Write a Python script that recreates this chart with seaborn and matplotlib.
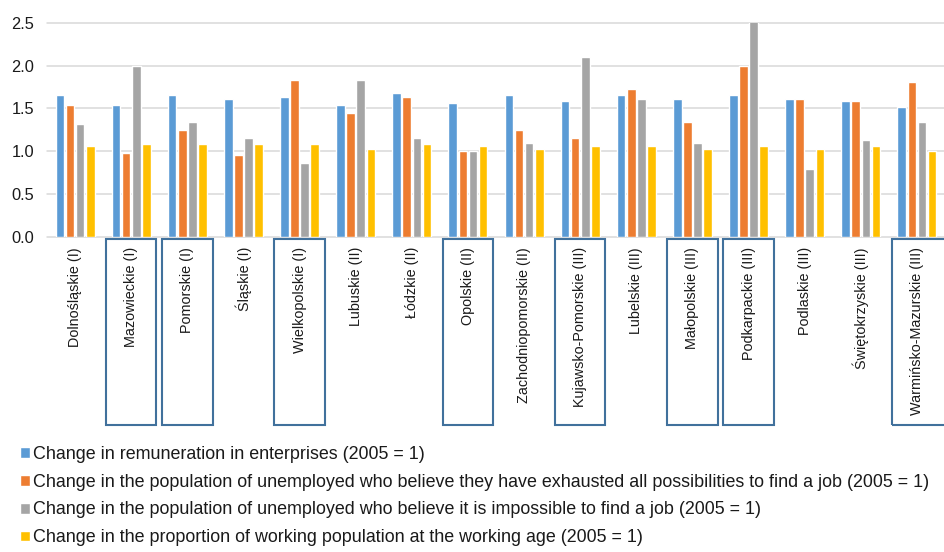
import pandas as pd
import matplotlib.pyplot as plt
import matplotlib.transforms as mtransforms
from matplotlib.patches import Rectangle
import seaborn as sns

# voivodeships (x axis)
regions = ['Dolnośląskie (I)', 'Mazowieckie (I)', 'Pomorskie (I)', 'Śląskie (I)',
           'Wielkopolskie (I)', 'Lubuskie (II)', 'Łódzkie (II)', 'Opolskie (II)',
           'Zachodniopomorskie (II)', 'Kujawsko-Pomorskie (III)', 'Lubelskie (III)',
           'Małopolskie (III)', 'Podkarpackie (III)', 'Podlaskie (III)',
           'Świętokrzyskie (III)', 'Warmińsko-Mazurskie (III)']

series = ['Change in remuneration in enterprises (2005 = 1)',
          'Change in the population of unemployed who believe they have exhausted all possibilities to find a job (2005 = 1)',
          'Change in the population of unemployed who believe it is impossible to find a job (2005 = 1)',
          'Change in the proportion of working population at the working age (2005 = 1)']

remuneration = [1.66, 1.54, 1.66, 1.61, 1.635, 1.54, 1.68, 1.56,
                1.66, 1.585, 1.66, 1.61, 1.66, 1.61, 1.585, 1.515]
exhausted = [1.54, 0.98, 1.25, 0.95, 1.83, 1.44, 1.635, 1.0,
             1.25, 1.15, 1.73, 1.34, 2.0, 1.61, 1.585, 1.81]
impossible = [1.32, 2.0, 1.34, 1.15, 0.86, 1.83, 1.15, 1.0,
              1.10, 2.095, 1.61, 1.10, 2.6, 0.79, 1.125, 1.34]
working_age = [1.055, 1.08, 1.08, 1.08, 1.08, 1.03, 1.08, 1.055,
               1.03, 1.055, 1.055, 1.03, 1.055, 1.03, 1.055, 1.0]

# regions marked with a frame under the axis
boxed = ['Mazowieckie (I)', 'Pomorskie (I)', 'Wielkopolskie (I)', 'Opolskie (II)',
         'Kujawsko-Pomorskie (III)', 'Małopolskie (III)', 'Podkarpackie (III)',
         'Warmińsko-Mazurskie (III)']

colors = ['#5B9BD5', '#ED7D31', '#A5A5A5', '#FFC000']

df = pd.DataFrame({
    'region': regions * 4,
    'series': [s for s in series for _ in regions],
    'value': remuneration + exhausted + impossible + working_age,
})

sns.set_style('white')
plt.rcParams['font.family'] = ['Liberation Sans', 'DejaVu Sans']

fig = plt.figure(figsize=(9.44, 5.52), dpi=100)
ax = fig.add_axes([47 / 944, 1 - 236.7 / 552, 898 / 944, 214 / 552])

sns.barplot(data=df, x='region', y='value', hue='series', order=regions,
            hue_order=series, palette=colors, width=0.72, gap=0.15,
            saturation=1, ax=ax)

ax.set_xlim(-0.5, 15.5)
ax.set_ylim(0, 2.5)
ax.set_yticks([0, 0.5, 1.0, 1.5, 2.0, 2.5])
ax.set_yticklabels(['0.0', '0.5', '1.0', '1.5', '2.0', '2.5'])
ax.set_xlabel('')
ax.set_ylabel('')
ax.yaxis.grid(True, color='#D9D9D9', linewidth=1.1)
for gl in ax.get_ygridlines():
    gl.set_clip_on(False)
ax.set_axisbelow(True)
sns.despine(ax=ax, left=True, bottom=True, top=True, right=True)
ax.tick_params(axis='y', length=0, pad=9, labelsize=11.8, labelcolor='#1a1a1a')
ax.tick_params(axis='x', length=0, pad=7.5, labelsize=10.4, labelcolor='#1a1a1a')
for lab in ax.get_xticklabels():
    lab.set_rotation(90)
    lab.set_ha('center')
    lab.set_va('top')

# frames around selected region labels
trans = mtransforms.blended_transform_factory(ax.transData, ax.transAxes)
for name in boxed:
    i = regions.index(name)
    w = 1.0 if i == len(regions) - 1 else 0.9
    rect = Rectangle((i - 0.45, -0.88), w, 0.87, transform=trans,
                     fill=False, edgecolor='#41719C', linewidth=1.5, clip_on=False)
    ax.add_patch(rect)

handles, labels = ax.get_legend_handles_labels()
ax.get_legend().remove()
fig.legend(handles, labels, loc='upper left', bbox_to_anchor=(20 / 944, 1 - 446 / 552),
           frameon=False, fontsize=12.9, handlelength=0.55, handleheight=0.55,
           handletextpad=0.15, labelspacing=0.6, borderpad=0, borderaxespad=0,
           labelcolor='#1a1a1a')

fig.savefig('out.png', dpi=100)
